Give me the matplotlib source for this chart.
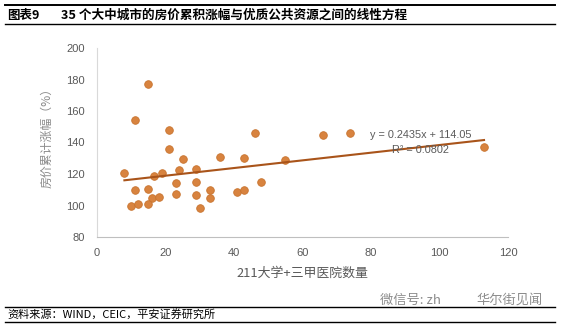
import matplotlib
matplotlib.use("Agg")
import matplotlib.pyplot as plt
from matplotlib.lines import Line2D
import numpy as np

plt.rcParams['font.family'] = ['Noto Sans CJK SC', 'DejaVu Sans']

# 211 universities + top-tier (3A) hospitals per city
resources = [8, 15, 11, 21, 21, 25, 36, 43, 46, 55, 24, 29, 19, 16.5, 11, 15,
             23, 29, 33, 33, 48, 41, 43, 23, 29, 16, 18, 30, 10, 12, 15, 66, 74, 113]
# cumulative house price growth (%)
price_growth = [120.5, 177, 154.5, 148, 136, 129.3, 131, 130, 146.2, 128.7, 122.8, 123, 120.5,
                118.5, 110, 110.3, 114, 114.7, 109.6, 104.8, 115.2, 108.3, 110, 107.1, 106.8,
                104.8, 105.5, 98.4, 100, 101, 100.7, 144.8, 146, 137.1]

slope = 0.2435
intercept = 114.05
r_squared = 0.0802

x_ticks = [0, 20, 40, 60, 80, 100, 120]
y_ticks = [80, 100, 120, 140, 160, 180, 200]

title_tag = "图表9"
title_text = "35 个大中城市的房价累积涨幅与优质公共资源之间的线性方程"
x_label = "211大学+三甲医院数量"
y_label = "房价累计涨幅（%）"
source_text = "资料来源：WIND，CEIC，平安证券研究所"

W, H = 561, 326
fig = plt.figure(figsize=(W / 100, H / 100), dpi=100)
fig.patch.set_facecolor("white")

ax = fig.add_axes([97 / W, 1 - 237 / H, (508 - 97) / W, (237 - 48) / H])
ax.set_xlim(x_ticks[0], x_ticks[-1])
ax.set_ylim(y_ticks[0], y_ticks[-1])
ax.set_xticks(x_ticks)
ax.set_yticks(y_ticks)

tick_font = dict(family=['Liberation Sans', 'DejaVu Sans'], size=8)
ax.set_xticklabels([str(v) for v in x_ticks], color="#595959", **tick_font)
ax.set_yticklabels([str(v) for v in y_ticks], color="#595959", **tick_font)
ax.tick_params(axis='both', length=0)
ax.tick_params(axis='y', pad=9)
ax.tick_params(axis='x', pad=8)

for side in ("top", "right"):
    ax.spines[side].set_visible(False)
ax.spines["left"].set_color("#d9d9d9")
ax.spines["bottom"].set_color("#bfbfbf")
ax.spines["left"].set_linewidth(0.8)
ax.spines["bottom"].set_linewidth(0.8)

ax.scatter(resources, price_growth, s=30, color="#d8833f", edgecolors="#c8742f",
           linewidths=0.6, zorder=3)

# linear trendline from the fitted equation
xs = np.array([min(resources), max(resources)])
ax.plot(xs, slope * xs + intercept, color="#a9541a", linewidth=1.5, zorder=4)

eq_font = dict(family=['Liberation Sans', 'DejaVu Sans'], size=7.8, color="#595959")
ax.text(94.5, 144.5, f"y = {slope}x + {intercept:.2f}", ha="center", va="center", zorder=5, **eq_font)
ax.text(94.5, 135.5, f"R² = {r_squared}", ha="center", va="center", zorder=5, **eq_font)

ax.set_xlabel(x_label, color="#595959", fontsize=9.3, labelpad=6)
ax.set_ylabel(y_label, color="#8a8a8a", fontsize=8.6)
ax.yaxis.set_label_coords((53 - 97) / (508 - 97), (237 - 135) / (237 - 48))

# header and footer rules
for y_px, lw in ((4.5, 1.4), (24, 1.0), (306.5, 1.0), (322, 1.0)):
    fig.add_artist(Line2D([5 / W, 555 / W], [1 - y_px / H] * 2, color="black", linewidth=lw))

fig.text(7 / W, 1 - 15 / H, title_tag, ha="left", va="center", fontsize=9, fontweight="bold")
fig.text(61 / W, 1 - 15 / H, title_text, ha="left", va="center", fontsize=9.1, fontweight="bold")
fig.text(7 / W, 1 - 314.5 / H, source_text, ha="left", va="center", fontsize=8, style="italic")

fig.text(380 / W, 1 - 300 / H, "微信号: zh", ha="left", va="center", fontsize=9.5, color="#8c8c8c")
fig.text(543 / W, 1 - 300 / H, "华尔街见闻", ha="right", va="center", fontsize=9.5, color="#8c8c8c")

fig.savefig("out.png", dpi=100, facecolor="white")
